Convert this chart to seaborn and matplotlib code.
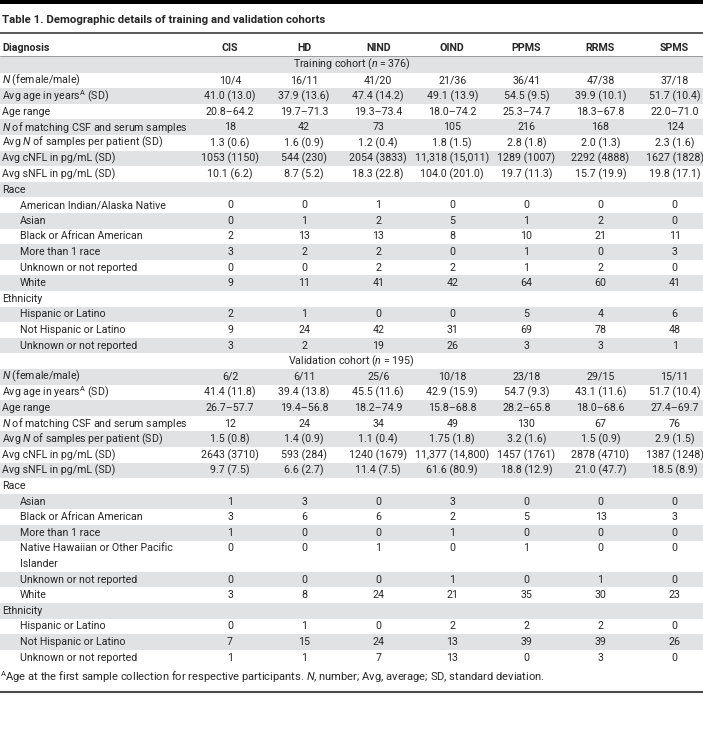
import matplotlib
matplotlib.use("Agg")
import matplotlib.pyplot as plt
import seaborn as sns

# Table content
diagnoses = ['CIS', 'HD', 'NIND', 'OIND', 'PPMS', 'RRMS', 'SPMS']

main_labels = [r'$\mathit{N}$ (female/male)',
               r'Avg age in years$^{\mathrm{A}}$ (SD)',
               'Age range',
               r'$\mathit{N}$ of matching CSF and serum samples',
               r'Avg $\mathit{N}$ of samples per patient (SD)',
               'Avg cNFL in pg/mL (SD)',
               'Avg sNFL in pg/mL (SD)']
train_race = ['American Indian/Alaska Native', 'Asian', 'Black or African American',
              'More than 1 race', 'Unknown or not reported', 'White']
valid_race = ['Asian', 'Black or African American', 'More than 1 race',
              'Native Hawaiian or Other Pacific\nIslander', 'Unknown or not reported', 'White']
ethnicity = ['Hispanic or Latino', 'Not Hispanic or Latino', 'Unknown or not reported']

# training cohort, one list per diagnosis (main rows, race rows, ethnicity rows)
train_cis = ['10/4', '41.0 (13.0)', '20.8–64.2', '18', '1.3 (0.6)', '1053 (1150)', '10.1 (6.2)',
             '0', '0', '2', '3', '0', '9', '2', '9', '3']
train_hd = ['16/11', '37.9 (13.6)', '19.7–71.3', '42', '1.6 (0.9)', '544 (230)', '8.7 (5.2)',
            '0', '1', '13', '2', '0', '11', '1', '24', '2']
train_nind = ['41/20', '47.4 (14.2)', '19.3–73.4', '73', '1.2 (0.4)', '2054 (3833)', '18.3 (22.8)',
              '1', '2', '13', '2', '2', '41', '0', '42', '19']
train_oind = ['21/36', '49.1 (13.9)', '18.0–74.2', '105', '1.8 (1.5)', '11,318 (15,011)', '104.0 (201.0)',
              '0', '5', '8', '0', '2', '42', '0', '31', '26']
train_ppms = ['36/41', '54.5 (9.5)', '25.3–74.7', '216', '2.8 (1.8)', '1289 (1007)', '19.7 (11.3)',
              '0', '1', '10', '1', '1', '64', '5', '69', '3']
train_rrms = ['47/38', '39.9 (10.1)', '18.3–67.8', '168', '2.0 (1.3)', '2292 (4888)', '15.7 (19.9)',
              '0', '2', '21', '0', '2', '60', '4', '78', '3']
train_spms = ['37/18', '51.7 (10.4)', '22.0–71.0', '124', '2.3 (1.6)', '1627 (1828)', '19.8 (17.1)',
              '0', '0', '11', '3', '0', '41', '6', '48', '1']

# validation cohort
valid_cis = ['6/2', '41.4 (11.8)', '26.7–57.7', '12', '1.5 (0.8)', '2643 (3710)', '9.7 (7.5)',
             '1', '3', '1', '0', '0', '3', '0', '7', '1']
valid_hd = ['6/11', '39.4 (13.8)', '19.4–56.8', '24', '1.4 (0.9)', '593 (284)', '6.6 (2.7)',
            '3', '6', '0', '0', '0', '8', '1', '15', '1']
valid_nind = ['25/6', '45.5 (11.6)', '18.2–74.9', '34', '1.1 (0.4)', '1240 (1679)', '11.4 (7.5)',
              '0', '6', '0', '1', '0', '24', '0', '24', '7']
valid_oind = ['10/18', '42.9 (15.9)', '15.8–68.8', '49', '1.75 (1.8)', '11,377 (14,800)', '61.6 (80.9)',
              '3', '2', '1', '0', '1', '21', '2', '13', '13']
valid_ppms = ['23/18', '54.7 (9.3)', '28.2–65.8', '130', '3.2 (1.6)', '1457 (1761)', '18.8 (12.9)',
              '0', '5', '0', '1', '0', '35', '2', '39', '0']
valid_rrms = ['29/15', '43.1 (11.6)', '18.0–68.6', '67', '1.5 (0.9)', '2878 (4710)', '21.0 (47.7)',
              '0', '13', '0', '0', '1', '30', '2', '39', '3']
valid_spms = ['15/11', '51.7 (10.4)', '27.4–69.7', '76', '2.9 (1.5)', '1387 (1248)', '18.5 (8.9)',
              '0', '3', '0', '0', '0', '23', '0', '26', '0']

title = 'Table 1. Demographic details of training and validation cohorts'
train_header = r'Training cohort ($\mathit{n}$ = 376)'
valid_header = r'Validation cohort ($\mathit{n}$ = 195)'
footnote = (r'$^{\mathrm{A}}$Age at the first sample collection for respective participants. '
            r'$\mathit{N}$, number; Avg, average; SD, standard deviation.')

# Style
sns.set_theme(style='white')
FONT = 'Roboto'
plt.rcParams['font.family'] = [FONT, 'DejaVu Sans']
plt.rcParams['mathtext.fontset'] = 'custom'
plt.rcParams['mathtext.rm'] = FONT
plt.rcParams['mathtext.it'] = FONT + ':italic'
plt.rcParams['mathtext.bf'] = FONT + ':bold'

W, H = 703, 748
fig = plt.figure(figsize=(W / 100, H / 100), dpi=100)
ax = fig.add_axes([0, 0, 1, 1])
ax.set_xlim(0, W)
ax.set_ylim(H, 0)
ax.axis('off')

FS = 7.7
SHADE = '#e1e2e4'
ROW_H = 15.6
col_x = [230 + 74.1 * i for i in range(len(diagnoses))]
x_left, x_indent = 2, 20

# top bar, title and header
ax.axhspan(0, 3.5, color='black', lw=0)
ax.text(x_left, 20, title, fontsize=8.2, fontweight='bold', va='center', ha='left')
ax.axhline(33, color='#4a4a4a', lw=1.3)
ax.text(x_left, 47.5, 'Diagnosis', fontsize=FS, fontweight='bold', va='center')
for x, d in zip(col_x, diagnoses):
    ax.text(x, 47.5, d, fontsize=FS, fontweight='bold', va='center', ha='center')
ax.axhline(56, color='#9a9a9a', lw=0.7)


def build_rows(header, race_labels, columns):
    rows = [('cohort', header, None, 1)]
    labels = ([('main', l) for l in main_labels] + [('group', 'Race')]
              + [('sub', l) for l in race_labels] + [('group', 'Ethnicity')]
              + [('sub', l) for l in ethnicity])
    k = 0
    for kind, lab in labels:
        if kind == 'group':
            rows.append((kind, lab, None, 1))
        else:
            rows.append((kind, lab, [c[k] for c in columns], 2 if '\n' in lab else 1))
            k += 1
    return rows


rows = (build_rows(train_header, train_race,
                   [train_cis, train_hd, train_nind, train_oind, train_ppms, train_rrms, train_spms])
        + build_rows(valid_header, valid_race,
                     [valid_cis, valid_hd, valid_nind, valid_oind, valid_ppms, valid_rrms, valid_spms]))

y = 57.0
for i, (kind, lab, vals, nlines) in enumerate(rows):
    h = ROW_H * nlines
    if i % 2 == 0:
        ax.axhspan(y, y + h, color=SHADE, lw=0, zorder=0)
    yc = y + ROW_H / 2
    if kind == 'cohort':
        ax.text(W / 2, yc, lab, fontsize=FS, va='center', ha='center')
    else:
        x0 = x_indent if kind == 'sub' else x_left
        for j, line in enumerate(lab.split('\n')):
            ax.text(x0, yc + j * ROW_H, line, fontsize=FS, va='center', ha='left')
        if vals is not None:
            for x, v in zip(col_x, vals):
                ax.text(x, yc, v, fontsize=FS, va='center', ha='center')
    y += h

ax.text(0, y + 12, footnote, fontsize=8.0, va='center', ha='left')
ax.axhline(692, color='#4a4a4a', lw=1.5)

fig.savefig('out.png', dpi=100)
